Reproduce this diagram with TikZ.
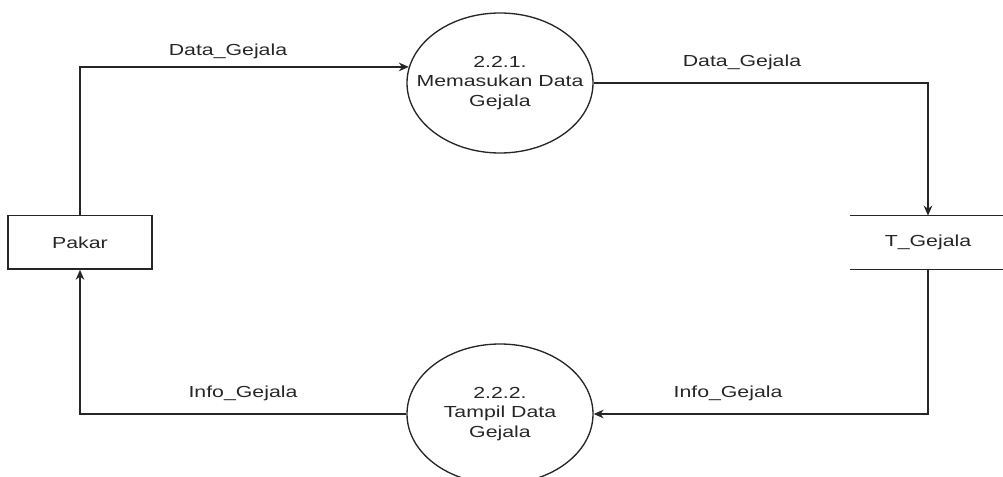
\documentclass[tikz,border=0pt]{standalone}
\usepackage{fontspec}
\setmainfont{Liberation Sans}[FakeStretch=1.33]
\usetikzlibrary{arrows.meta,shapes.geometric}

\tikzset{
  process/.style={ellipse, draw=black!85, line width=1pt, minimum width=139.5pt,
    minimum height=105pt, inner xsep=-20pt, inner ysep=0pt, align=center,
    text=black!85},
  entity/.style={rectangle, draw=black!85, line width=1pt, minimum width=108pt,
    minimum height=40pt, inner sep=0pt, text=black!85},
  store/.style={rectangle, minimum width=117pt, minimum height=40pt, inner sep=0pt,
    text=black!85},
  flow/.style={draw=black!85, line width=1pt, -{Stealth[length=7.5pt,width=6.5pt]}},
  flowlabel/.style={inner sep=0pt, text=black!85}
}

\begin{document}
\begin{tikzpicture}[x=0.75pt, y=-0.75pt, font=\fontsize{12}{14.5}\selectfont]
  \useasboundingbox (0,0) rectangle (1003,477);
  \clip (0,0) rectangle (1003,477);

  % processes
  \node[process] (c1) at (500,83) {2.2.1.\\Memasukan Data\\Gejala};
  \node[process] (c2) at (500,414) {2.2.2.\\Tampil Data\\Gejala};

  % external entity
  \node[entity] (pakar) at (80,242.5) {Pakar};

  % data store (open at the sides)
  \node[store] (tg) at (928,242.5) {T\_Gejala};
  \draw[line width=1pt, black!85] (tg.north west) -- (tg.north east);
  \draw[line width=1pt, black!85] (tg.south west) -- (tg.south east);

  % data flows
  \draw[flow] (pakar.north) |- (c1.170.6);
  \draw[flow] (c1.east) -| (tg.north);
  \draw[flow] (tg.south) |- (c2.east);
  \draw[flow] (c2.west) -| (pakar.south);

  % flow labels
  \node[flowlabel] (l1) at (228,51) {Data\_Gejala};
  \node[flowlabel] (l2) at (742,62) {Data\_Gejala};
  \node[flowlabel] (l3) at (243,393) {Info\_Gejala};
  \node[flowlabel] (l4) at (728,393) {Info\_Gejala};
\end{tikzpicture}
\end{document}
